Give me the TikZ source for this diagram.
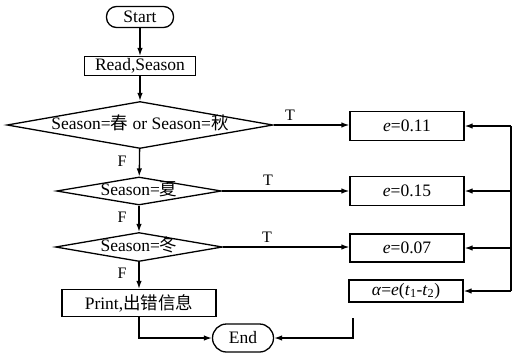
\documentclass[tikz,border=0pt]{standalone}
\usepackage{fontspec}
\setmainfont{Liberation Serif}
\newfontfamily\cjk{Noto Sans CJK SC}
\usetikzlibrary{shapes.geometric,arrows.meta}
\begin{document}
\begin{tikzpicture}[x=1pt, y=-1pt, line width=1.3pt, >={Latex[length=8pt,width=5.5pt]},
    every node/.style={font=\fontsize{17.5}{20}\selectfont},
    term/.style={draw, rectangle, rounded corners=10pt, inner sep=0pt},
    proc/.style={draw, rectangle, inner sep=0pt},
    decide/.style={draw, diamond, aspect=6, inner sep=0pt, text height=10pt, text depth=2pt},
    lab/.style={font=\fontsize{16}{18}\selectfont}]
  \useasboundingbox (0,0) rectangle (513,354);
  % main column
  \node[term, minimum width=67pt, minimum height=21pt] (start) at (140,17) {Start};
  \node[proc, minimum width=111pt, minimum height=19pt] (read) at (140,66) {Read,Season};
  \node[decide, minimum width=266pt, minimum height=47pt] (d1) at (140,125) {Season={\cjk 春} or Season={\cjk 秋}};
  \node[decide, minimum width=165pt, minimum height=28pt] (d2) at (139,191) {Season={\cjk 夏}};
  \node[decide, minimum width=167pt, minimum height=29pt] (d3) at (139,247) {Season={\cjk 冬}};
  \node[proc, minimum width=154pt, minimum height=27pt] (print) at (139,303) {Print,{\cjk 出错信息}};
  \node[term, rounded corners=14pt, minimum width=61pt, minimum height=28pt] (end) at (243,338) {End};
  % right column
  \node[proc, minimum width=114pt, minimum height=29pt] (e1) at (407,126) {\textit{e}=0.11};
  \node[proc, minimum width=114pt, minimum height=29pt] (e2) at (407,191) {\textit{e}=0.15};
  \node[proc, minimum width=114pt, minimum height=28pt] (e3) at (407,248) {\textit{e}=0.07};
  \node[proc, minimum width=114pt, minimum height=22pt] (alpha) at (406,291) {\textit{α}=\textit{e}(\textit{t}\textsubscript{1}-\textit{t}\textsubscript{2})};
  \coordinate (rt) at (511,126);
  \coordinate (rb) at (511,291);
  \coordinate (a1) at (353,318);
  % labels
  \node[lab] (t1) at (290,115) {T};
  \node[lab] (t2) at (268,180) {T};
  \node[lab] (t3) at (267,237) {T};
  \node[lab] (f1) at (122,161) {F};
  \node[lab] (f2) at (122,217) {F};
  \node[lab] (f3) at (122,273) {F};
  % connectors
  \draw[->] (start) -- (read);
  \draw[->] (read) -- (d1);
  \draw[->] (d1) -- (d2);
  \draw[->] (d2) -- (d3);
  \draw[->] (d3) -- (print);
  \draw[->] (print.south) |- (end.west);
  \draw[->] (d1.east) -- (d1.east -| e1.west);
  \draw[->] (d2.east) -- (d2.east -| e2.west);
  \draw[->] (d3.east) -- (d3.east -| e3.west);
  \draw (rt) -- (rb);
  \draw[->] (rt) -- (e1.east);
  \draw[->] (e2.east -| rt) -- (e2.east);
  \draw[->] (e3.east -| rt) -- (e3.east);
  \draw[->] (rb) -- (alpha.east);
  \draw[->] (a1) |- (end.east);
\end{tikzpicture}
\end{document}
